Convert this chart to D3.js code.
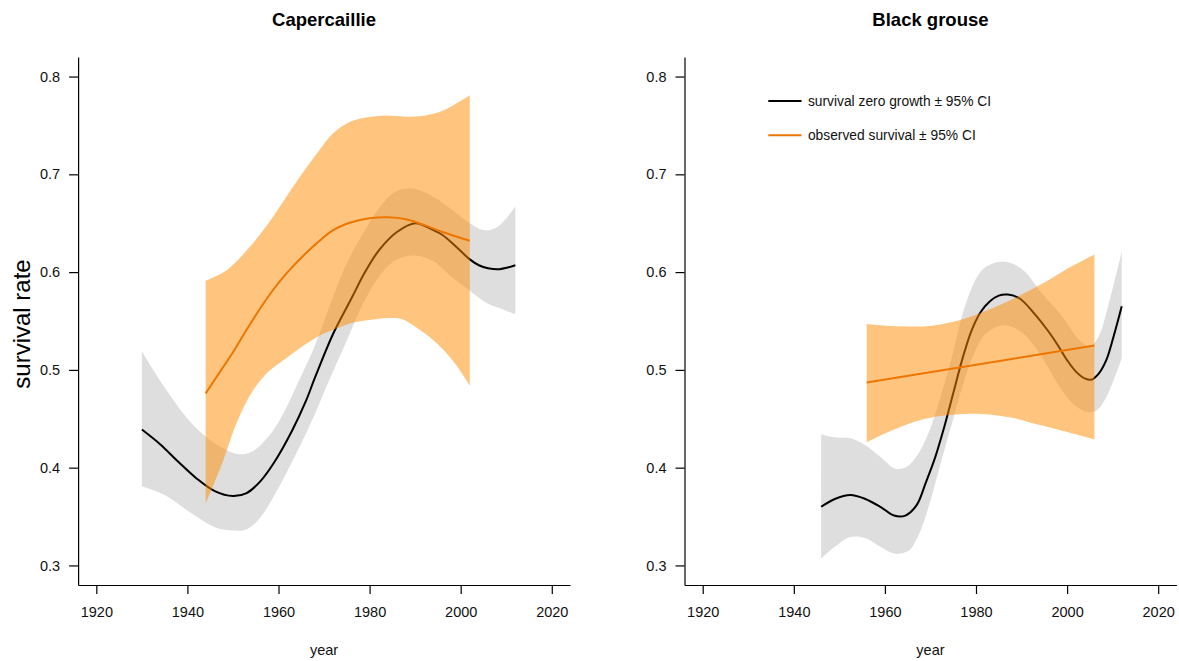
<!DOCTYPE html>
<html>
<head>
<meta charset="utf-8">
<script src="https://cdn.jsdelivr.net/npm/d3@7"></script>
<style>
  html, body { margin: 0; padding: 0; background: #fff; }
  svg { display: block; font-family: "Liberation Sans", Arial, sans-serif; }
</style>
</head>
<body>
<svg id="chart" width="1179" height="661"></svg>
<script>
// ---- Capercaillie: survival required for zero growth (estimate and 95% CI) ----
const capZeroYears = [1930, 1934, 1938, 1942, 1946, 1950, 1953, 1956, 1959, 1963, 1966, 1968, 1972, 1976, 1979, 1982, 1986, 1990, 1994, 1996, 1999, 2002, 2004, 2006, 2008.5, 2012];
const capZeroFit   = [0.439, 0.424, 0.406, 0.389, 0.376, 0.371, 0.374, 0.386, 0.405, 0.438, 0.468, 0.492, 0.537, 0.573, 0.600, 0.622, 0.641, 0.650, 0.643, 0.638, 0.626, 0.613, 0.607, 0.604, 0.603, 0.607];
const capZeroUpYears = [1930, 1935, 1941, 1946, 1951, 1954, 1958, 1961, 1964, 1968, 1972, 1975, 1979, 1983, 1986, 1990, 1994, 1998, 2002, 2005, 2008, 2012];
const capZeroUpper   = [0.519, 0.482, 0.445, 0.425, 0.414, 0.416, 0.433, 0.455, 0.484, 0.525, 0.575, 0.609, 0.643, 0.671, 0.683, 0.685, 0.677, 0.664, 0.650, 0.643, 0.646, 0.667];
const capZeroLoYears = [1930, 1935, 1941, 1946, 1949, 1953, 1956, 1959, 1962, 1965, 1968, 1971, 1975, 1979, 1983, 1986, 1990, 1994, 1998, 2002, 2005.5, 2008, 2012];
const capZeroLower   = [0.381, 0.372, 0.353, 0.339, 0.336, 0.337, 0.349, 0.371, 0.397, 0.425, 0.455, 0.488, 0.530, 0.572, 0.601, 0.613, 0.617, 0.611, 0.595, 0.581, 0.569, 0.564, 0.557];

// ---- Capercaillie: observed survival (estimate and 95% CI) ----
const capObsYears = [1944, 1947, 1950, 1953, 1956, 1959, 1962, 1965.5, 1969, 1972, 1976, 1980, 1984, 1988, 1992, 1996, 2002];
const capObsFit   = [0.476, 0.497, 0.518, 0.541, 0.563, 0.583, 0.600, 0.617, 0.632, 0.643, 0.651, 0.655, 0.656, 0.654, 0.648, 0.641, 0.632];
const capObsUpYears = [1944, 1948, 1951, 1955, 1959, 1963, 1966, 1969, 1972, 1975, 1978, 1983, 1988, 1992, 1996, 2002];
const capObsUpper   = [0.591, 0.600, 0.612, 0.633, 0.658, 0.686, 0.706, 0.725, 0.742, 0.752, 0.757, 0.760, 0.759, 0.760, 0.765, 0.781];
const capObsLoYears = [1944, 1947.6, 1951, 1954.4, 1958, 1962, 1965.5, 1969, 1972.8, 1976, 1980, 1984, 1987, 1991, 1995.5, 1999, 2002];
const capObsLower   = [0.363, 0.404, 0.448, 0.479, 0.499, 0.513, 0.525, 0.535, 0.5425, 0.548, 0.551, 0.553, 0.552, 0.541, 0.524, 0.505, 0.484];

// ---- Black grouse: survival required for zero growth ----
const bgZeroYears = [1946, 1949, 1952.4, 1955.7, 1959, 1962, 1964.5, 1967, 1969, 1971, 1973, 1975, 1977, 1979, 1981, 1983, 1985, 1987, 1989.6, 1992.9, 1995.8, 1998, 2000, 2002, 2004, 2005.3, 2006.9, 2008.6, 2010.2, 2012];
const bgZeroFit   = [0.360, 0.368, 0.372, 0.368, 0.360, 0.351, 0.351, 0.362, 0.385, 0.410, 0.441, 0.476, 0.511, 0.540, 0.559, 0.570, 0.576, 0.577, 0.573, 0.557, 0.540, 0.525, 0.510, 0.498, 0.491, 0.490, 0.496, 0.510, 0.534, 0.565];
const bgZeroUpYears = [1946, 1949, 1952.4, 1955.7, 1959, 1962.3, 1964.8, 1967.3, 1969.8, 1972.2, 1974.7, 1978, 1981.3, 1984.6, 1987.1, 1990.4, 1994.5, 1998.7, 2002.8, 2005, 2007, 2009, 2012];
const bgZeroUpper   = [0.434, 0.431, 0.430, 0.423, 0.411, 0.399, 0.401, 0.414, 0.438, 0.472, 0.513, 0.571, 0.602, 0.610, 0.610, 0.602, 0.578, 0.556, 0.530, 0.524, 0.535, 0.565, 0.621];
const bgZeroLoYears = [1946, 1949, 1952.4, 1955.7, 1959, 1962.3, 1965.2, 1967.3, 1969.8, 1972.2, 1974.7, 1977.2, 1979.7, 1982.1, 1986.3, 1990.4, 1994.5, 1997.9, 2001.2, 2004.5, 2006.6, 2008.6, 2012];
const bgZeroLower   = [0.307, 0.319, 0.329, 0.328, 0.319, 0.312, 0.315, 0.330, 0.363, 0.404, 0.445, 0.486, 0.518, 0.537, 0.546, 0.537, 0.513, 0.486, 0.466, 0.457, 0.459, 0.472, 0.512];

// ---- Black grouse: observed survival ----
const bgObsYears = [1956, 2006];
const bgObsFit   = [0.487, 0.525];
const bgObsUpYears = [1956, 1961.5, 1969.8, 1974.7, 1979.7, 1984.6, 1989.6, 1994.5, 1999.5, 2006];
const bgObsUpper   = [0.547, 0.545, 0.545, 0.549, 0.556, 0.565, 0.576, 0.588, 0.602, 0.618];
const bgObsLoYears = [1956, 1961.5, 1968, 1974.7, 1981.3, 1987.9, 1994.5, 2001.2, 2006];
const bgObsLower   = [0.426, 0.438, 0.449, 0.454, 0.455, 0.451, 0.443, 0.435, 0.429];

// ---- Axes and labels ----
const yearTicks = [1920, 1940, 1960, 1980, 2000, 2020];
const rateTicks = [0.3, 0.4, 0.5, 0.6, 0.7, 0.8];
const panelTitles = ["Capercaillie", "Black grouse"];
const legendLabels = ["survival zero growth \u00b1 95% CI", "observed survival \u00b1 95% CI"];

const zeroLineColor = "#000000";
const zeroBandColor = "rgba(190,190,190,0.5)";
const obsLineColor = "#EE7600";
const obsBandColor = "rgba(255,140,0,0.5)";

const svg = d3.select("#chart");

const plotTop = 57, plotBottom = 585, plotWidth = 491.9;
const y = d3.scaleLinear().domain([0.28, 0.82]).range([plotBottom, plotTop]);
const smooth = d3.curveCatmullRom.alpha(0.5);

const panels = [
  {
    left: 78.1, title: panelTitles[0], ylabel: "survival rate",
    zero: { fit: [capZeroYears, capZeroFit], up: [capZeroUpYears, capZeroUpper], lo: [capZeroLoYears, capZeroLower] },
    obs:  { fit: [capObsYears, capObsFit],   up: [capObsUpYears, capObsUpper],   lo: [capObsLoYears, capObsLower] }
  },
  {
    left: 684.5, title: panelTitles[1], ylabel: null, legend: true,
    zero: { fit: [bgZeroYears, bgZeroFit], up: [bgZeroUpYears, bgZeroUpper], lo: [bgZeroLoYears, bgZeroLower] },
    obs:  { fit: [bgObsYears, bgObsFit],   up: [bgObsUpYears, bgObsUpper],   lo: [bgObsLoYears, bgObsLower] }
  }
];

const pairs = (xs, ys) => xs.map((v, i) => [v, ys[i]]);

panels.forEach(p => {
  const x = d3.scaleLinear().domain([1916, 2024]).range([0, plotWidth]);
  const g = svg.append("g").attr("transform", `translate(${p.left},0)`);

  const line = d3.line().x(d => x(d[0])).y(d => y(d[1])).curve(smooth);
  // closed band: upper edge forward, lower edge backward
  const band = (up, lo) => {
    const upper = pairs(up[0], up[1]);
    const lower = pairs(lo[0], lo[1]).reverse();
    return line(upper) + "L" + line(lower).slice(1) + "Z";
  };

  // zero-growth band and line
  g.append("path").attr("d", band(p.zero.up, p.zero.lo)).attr("fill", zeroBandColor);
  g.append("path").attr("d", line(pairs(p.zero.fit[0], p.zero.fit[1])))
    .attr("fill", "none").attr("stroke", zeroLineColor).attr("stroke-width", 2);

  // observed band and line
  g.append("path").attr("d", band(p.obs.up, p.obs.lo)).attr("fill", obsBandColor);
  g.append("path").attr("d", line(pairs(p.obs.fit[0], p.obs.fit[1])))
    .attr("fill", "none").attr("stroke", obsLineColor).attr("stroke-width", 2);

  // axes (L-shaped frame)
  const xAxis = d3.axisBottom(x).tickValues(yearTicks).tickFormat(d3.format("d"))
    .tickSize(9).tickSizeOuter(0).tickPadding(13);
  const gx = g.append("g").attr("transform", `translate(0,${plotBottom})`).call(xAxis);
  const yAxis = d3.axisLeft(y).tickValues(rateTicks).tickFormat(d3.format(".1f"))
    .tickSize(9).tickSizeOuter(0).tickPadding(9);
  const gy = g.append("g").call(yAxis);
  [gx, gy].forEach(a => {
    a.selectAll("path.domain").attr("stroke", "#000").attr("stroke-width", 1.2);
    a.selectAll(".tick line").attr("stroke", "#000").attr("stroke-width", 1.2);
    a.selectAll(".tick text").attr("fill", "#111").style("font-size", "14.5px")
      .style("font-family", '"Liberation Sans", Arial, sans-serif');
  });

  const cx = x(1970);
  g.append("text").attr("x", cx).attr("y", 26).attr("text-anchor", "middle")
    .style("font-weight", "bold").style("font-size", "18.5px").attr("fill", "#000").text(p.title);
  g.append("text").attr("x", cx).attr("y", 655).attr("text-anchor", "middle")
    .style("font-size", "14.5px").attr("fill", "#111").text("year");

  if (p.ylabel) {
    g.append("text")
      .attr("transform", `translate(${-p.left + 30},${(plotTop + plotBottom) / 2 + 3}) rotate(-90)`)
      .attr("text-anchor", "middle").style("font-size", "24px").attr("fill", "#000")
      .text(p.ylabel);
  }

  if (p.legend) {
    const items = [
      { label: legendLabels[0], color: zeroLineColor, v: 0.775 },
      { label: legendLabels[1], color: obsLineColor, v: 0.740 }
    ];
    items.forEach(it => {
      g.append("line").attr("x1", x(1934.4)).attr("x2", x(1941.7))
        .attr("y1", y(it.v)).attr("y2", y(it.v))
        .attr("stroke", it.color).attr("stroke-width", 2);
      g.append("text").attr("x", x(1943.1)).attr("y", y(it.v)).attr("dy", "0.35em")
        .style("font-size", "13.8px").attr("fill", "#111").text(it.label);
    });
  }
});
</script>
</body>
</html>
